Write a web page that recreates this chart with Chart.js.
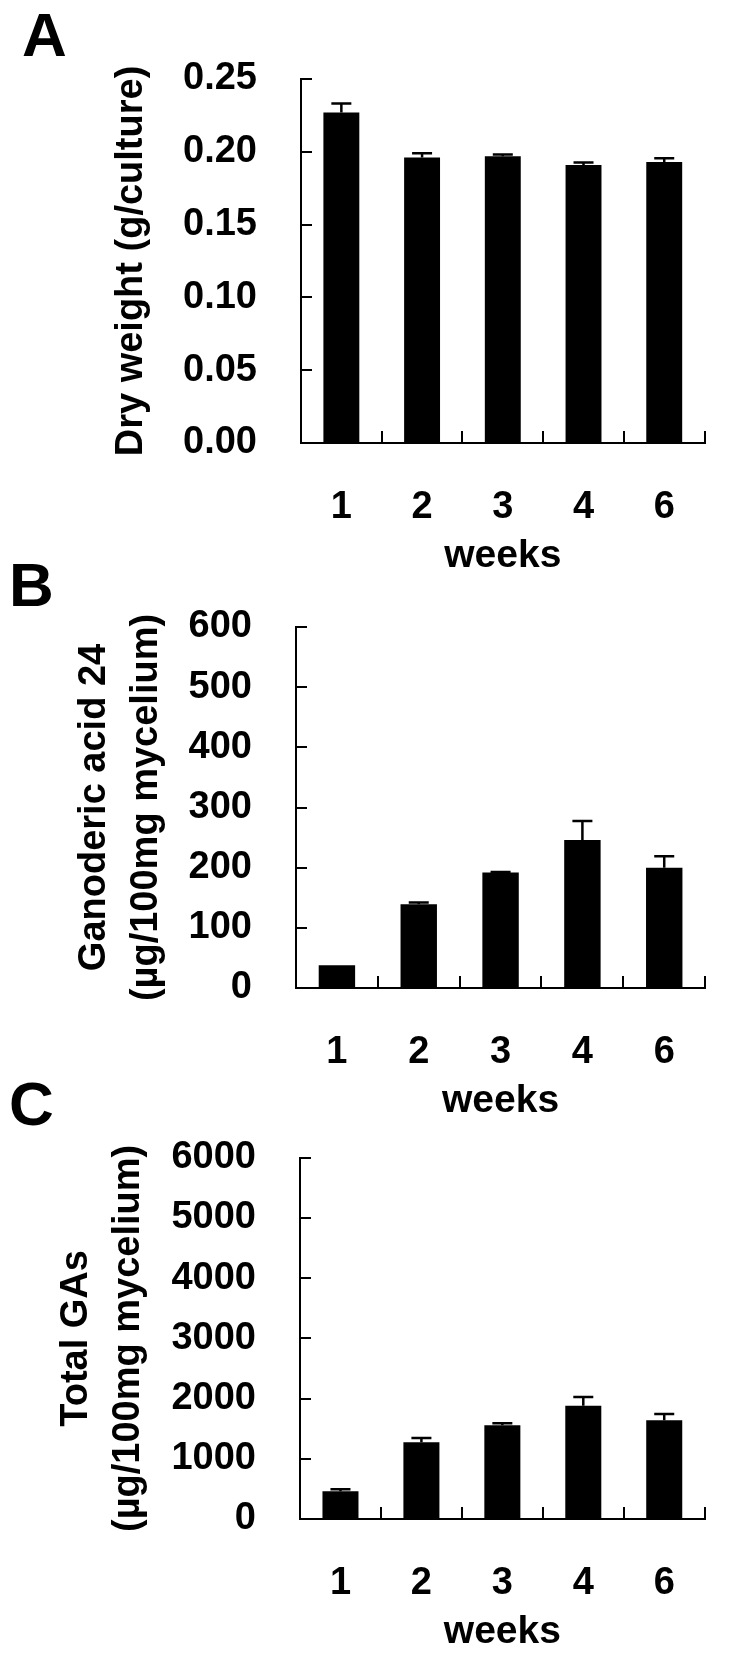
<!DOCTYPE html>
<html>
<head>
<meta charset="utf-8">
<script src="https://cdn.jsdelivr.net/npm/chart.js@4.4.1/dist/chart.umd.min.js"></script>
<style>
  html, body { margin: 0; padding: 0; background: #fff; overflow: hidden; }
  #page { position: relative; width: 730px; height: 1656px; }
  canvas { position: absolute; left: 0; }
  .panel { position: absolute; font: bold 62px "Liberation Sans", Arial, sans-serif; line-height: 1; color: #000; }
</style>
</head>
<body>
<div id="page">
  <div class="panel" style="left:22px;top:4px">A</div>
  <div class="panel" style="left:9px;top:554px">B</div>
  <div class="panel" style="left:9px;top:1073px">C</div>
  <canvas id="chartA" width="730" height="583" style="top:0px"></canvas>
  <canvas id="chartB" width="730" height="588" style="top:540px"></canvas>
  <canvas id="chartC" width="730" height="579" style="top:1080px"></canvas>
</div>
<script>
const weeks = ["1", "2", "3", "4", "6"];

const dryWeight = [0.227, 0.196, 0.197, 0.191, 0.193];
const dryWeightErr = [0.0062, 0.003, 0.0012, 0.0016, 0.0025];
const dryWeightTicks = [0, 0.05, 0.10, 0.15, 0.20, 0.25];

const ga24 = [38, 139, 192, 246, 200];
const ga24Err = [0, 3, 1, 31.5, 19];
const ga24Ticks = [0, 100, 200, 300, 400, 500, 600];

const totalGAs = [460, 1274, 1556, 1882, 1640];
const totalGAsErr = [33, 71, 34, 145, 104];
const totalGAsTicks = [0, 1000, 2000, 3000, 4000, 5000, 6000];

const FONT = '"Liberation Sans", Arial, sans-serif';
const tickFont = { family: FONT, size: 38, weight: 'bold' };
const titleFont = { family: FONT, size: 38, weight: 'bold', lineHeight: 1.38 };

// error bars: only the upper half shows above a black bar
const errorBars = {
  id: 'errorBars',
  afterDatasetsDraw(chart, args, opts) {
    const errs = opts.errors;
    if (!errs) return;
    const meta = chart.getDatasetMeta(0);
    const values = chart.data.datasets[0].data;
    const y = chart.scales.y;
    const ctx = chart.ctx;
    ctx.save();
    ctx.strokeStyle = '#000';
    ctx.lineWidth = 2.5;
    meta.data.forEach((bar, i) => {
      if (!errs[i]) return;
      const yTop = y.getPixelForValue(values[i] + errs[i]);
      ctx.beginPath();
      ctx.moveTo(bar.x, bar.y);
      ctx.lineTo(bar.x, yTop);
      ctx.moveTo(bar.x - 10, yTop);
      ctx.lineTo(bar.x + 10, yTop);
      ctx.stroke();
    });
    ctx.restore();
  }
};

function makePanel(id, values, errors, yTicks, digits, yTitle, box) {
  return new Chart(document.getElementById(id), {
    type: 'bar',
    data: {
      labels: weeks,
      datasets: [{
        data: values,
        backgroundColor: '#000',
        borderWidth: 0,
        barPercentage: 0.445,
        categoryPercentage: 1
      }]
    },
    plugins: [errorBars],
    options: {
      responsive: false,
      animation: false,
      layout: { padding: { top: box.top, right: 12, bottom: 0, left: 0 } },
      plugins: {
        legend: { display: false },
        tooltip: { enabled: false },
        errorBars: { errors: errors }
      },
      scales: {
        x: {
          grid: { offset: true, drawOnChartArea: false, color: '#000', lineWidth: 2, tickLength: -12 },
          border: { color: '#000', width: 2 },
          ticks: { color: '#000', font: tickFont, padding: 54, maxRotation: 0, autoSkip: false },
          title: {
            display: true, text: 'weeks', color: '#000',
            font: { family: FONT, size: 39, weight: 'bold' },
            padding: { top: 0, bottom: 3 }
          },
          afterFit: s => { s.height = 140; }
        },
        y: {
          min: yTicks[0],
          max: yTicks[yTicks.length - 1],
          afterBuildTicks: s => { s.ticks = yTicks.map(v => ({ value: v })); },
          grid: { drawOnChartArea: false, color: '#000', lineWidth: 2, tickLength: -11 },
          border: { color: '#000', width: 2 },
          ticks: { color: '#000', font: tickFont, padding: 55, callback: v => Number(v).toFixed(digits) },
          title: {
            display: true, text: yTitle, color: '#000', font: titleFont,
            padding: { top: box.titlePad, bottom: 0 }
          },
          afterFit: s => { s.width = box.left; }
        }
      }
    }
  });
}

makePanel('chartA', dryWeight, dryWeightErr, dryWeightTicks, 2,
  'Dry weight (g/culture)', { top: 79, left: 301, titlePad: 105 });
makePanel('chartB', ga24, ga24Err, ga24Ticks, 0,
  ['Ganoderic acid 24', '(\u00b5g/100mg mycelium)'], { top: 87, left: 296, titlePad: 68 });
makePanel('chartC', totalGAs, totalGAsErr, totalGAsTicks, 0,
  ['Total GAs', '(\u00b5g/100mg mycelium)'], { top: 77, left: 300, titlePad: 50 });
</script>
</body>
</html>
